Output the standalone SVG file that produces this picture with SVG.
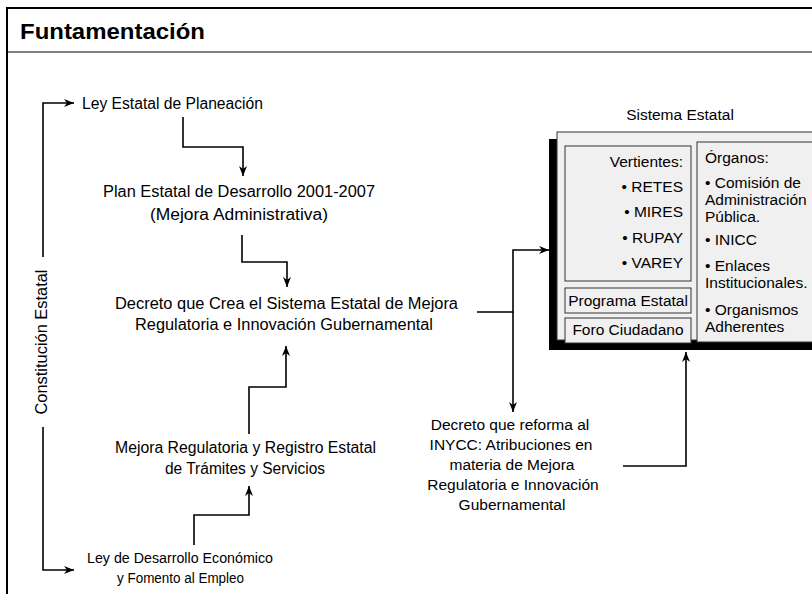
<svg xmlns="http://www.w3.org/2000/svg" width="812" height="594" viewBox="0 0 812 594">
<style>
text{font-family:"Liberation Sans",Arial,sans-serif;font-size:15.5px;fill:#000}
.t{font-weight:bold;font-size:22px}
.c{text-anchor:middle}
.r{text-anchor:end}
.f{font-size:16px}
.ln{fill:none;stroke:#000;stroke-width:1.6}
.bx{fill:#f0f0f0;stroke:#333;stroke-width:1}
</style>
<defs>
<marker id="ah" viewBox="0 0 10 8" refX="10" refY="4" markerWidth="10" markerHeight="8" markerUnits="userSpaceOnUse" orient="auto">
<path d="M0,0 L10,4 L0,8 L3,4 z" fill="#000"/>
</marker>
</defs>
<rect x="0" y="0" width="812" height="594" fill="#fff"/>
<g id="frame">
<rect x="7" y="8" width="830" height="620" fill="#fff" stroke="#000" stroke-width="2"/>
<line x1="8" y1="52" x2="812" y2="52" stroke="#808080" stroke-width="2"/>
<text class="t" x="20" y="39" textLength="185" lengthAdjust="spacingAndGlyphs">Funtamentación</text>
</g>
<g id="constitucion">
<text class="c f" transform="translate(47,342) rotate(-90)" textLength="145" lengthAdjust="spacingAndGlyphs">Constitución Estatal</text>
</g>
<g id="ley-planeacion"><text class="f" x="82" y="109" textLength="181" lengthAdjust="spacingAndGlyphs">Ley Estatal de Planeación</text></g>
<g id="plan-estatal">
<text class="c f" x="239" y="197" textLength="272" lengthAdjust="spacingAndGlyphs">Plan Estatal de Desarrollo 2001-2007</text>
<text class="c f" x="239" y="220" textLength="178" lengthAdjust="spacingAndGlyphs">(Mejora Administrativa)</text>
</g>
<g id="decreto-crea">
<text class="c f" x="286.5" y="309" textLength="343" lengthAdjust="spacingAndGlyphs">Decreto que Crea el Sistema Estatal de Mejora</text>
<text class="c f" x="284" y="330" textLength="298" lengthAdjust="spacingAndGlyphs">Regulatoria e Innovación Gubernamental</text>
</g>
<g id="mejora-regulatoria">
<text class="c f" x="245.5" y="453" textLength="261" lengthAdjust="spacingAndGlyphs">Mejora Regulatoria y Registro Estatal</text>
<text class="c f" x="245" y="474" textLength="160" lengthAdjust="spacingAndGlyphs">de Trámites y Servicios</text>
</g>
<g id="ley-desarrollo">
<text class="c" x="180" y="563" textLength="186" lengthAdjust="spacingAndGlyphs">Ley de Desarrollo Económico</text>
<text class="c" x="180.5" y="583" textLength="127" lengthAdjust="spacingAndGlyphs">y Fomento al Empleo</text>
</g>
<g id="decreto-reforma">
<text class="c" x="510" y="430">Decreto que reforma al</text>
<text class="c" x="511" y="450">INYCC: Atribuciones en</text>
<text class="c" x="512" y="470">materia de Mejora</text>
<text class="c" x="513" y="490">Regulatoria e Innovación</text>
<text class="c" x="512" y="510">Gubernamental</text>
</g>
<g id="sistema-estatal">
<text class="c" x="680" y="120">Sistema Estatal</text>
<rect x="549" y="139" width="280" height="211" fill="#000"/>
<rect x="557" y="132" width="280" height="208" fill="#f0f0f0" stroke="#333" stroke-width="1"/>
<rect class="bx" x="565" y="146" width="126" height="135"/>
<text class="r" x="683" y="167">Vertientes:</text>
<text class="r" x="683" y="192">• RETES</text>
<text class="r" x="683" y="217">• MIRES</text>
<text class="r" x="683" y="243">• RUPAY</text>
<text class="r" x="683" y="268">• VAREY</text>
<rect class="bx" x="565" y="288" width="126" height="25"/>
<text class="c" x="628" y="306">Programa Estatal</text>
<rect class="bx" x="565" y="318" width="126" height="25"/>
<text class="c" x="628" y="335">Foro Ciudadano</text>
<rect class="bx" x="697" y="142" width="130" height="200"/>
<text x="705" y="163">Órganos:</text>
<text x="705" y="188">• Comisión de</text>
<text x="705" y="205">Administración</text>
<text x="705" y="222">Pública.</text>
<text x="705" y="245">• INICC</text>
<text x="705" y="271">• Enlaces</text>
<text x="705" y="288">Institucionales.</text>
<text x="705" y="315">• Organismos</text>
<text x="705" y="332">Adherentes</text>
</g>
<g id="connectors">
<path class="ln" d="M43,257 V103 H74" marker-end="url(#ah)"/>
<path class="ln" d="M43,427 V570 H74" marker-end="url(#ah)"/>
<path class="ln" d="M183,117 V147 H243 V176" marker-end="url(#ah)"/>
<path class="ln" d="M242,235 V262 H287 V287" marker-end="url(#ah)"/>
<path class="ln" d="M249,434 V387 H286 V346" marker-end="url(#ah)"/>
<path class="ln" d="M194,545 V515 H249 V486" marker-end="url(#ah)"/>
<path class="ln" d="M477,312 H513 V250 H549" marker-end="url(#ah)"/>
<path class="ln" d="M513,312 V412" marker-end="url(#ah)"/>
<path class="ln" d="M623,466 H686 V352" marker-end="url(#ah)"/>
</g>
</svg>
